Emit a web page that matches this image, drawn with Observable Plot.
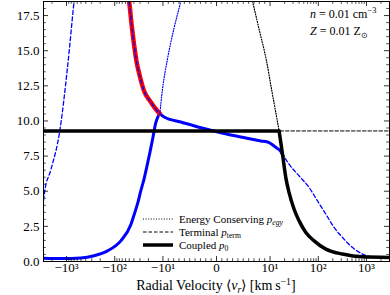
<!DOCTYPE html>
<html><head><meta charset="utf-8">
<script src="https://cdn.jsdelivr.net/npm/d3@7"></script>
<script src="https://cdn.jsdelivr.net/npm/@observablehq/plot@0.6"></script>
<style>
body{margin:0;background:#fff;}
#wrap{position:relative;width:390px;height:295px;font-family:"Liberation Serif",serif;color:#000;}
#wrap svg{display:block;}
.ov{position:absolute;white-space:nowrap;}
.leg{position:absolute;left:143px;height:14px;line-height:14px;font-size:11px;display:flex;align-items:center;}
.leg svg{margin-right:6px;}
sub,sup{font-size:0.7em;line-height:0;}
sub{vertical-align:-0.3em;}
sup{vertical-align:0.55em;}
</style></head><body><div id="wrap"></div>
<script>
// ---- axis ticks ----
const xMajor = [-1000, -100, -10, 0, 10, 100, 1000];
const xMajorLabels = ["\u221210\u00b3", "\u221210\u00b2", "\u221210\u00b9", "0", "10\u00b9", "10\u00b2", "10\u00b3"];
const yMajor = [0, 2.5, 5, 7.5, 10, 12.5, 15, 17.5];
const xDomain = [-3000, 3000];
const yDomain = [0, 18.5];

// ---- black curves (fiducial) ----
const coupledPlateau = [[-3000, 9.29], [15.4, 9.29]];
const coupledDrop = [[15.4, 9.29], [18.1, 7.65], [21.2, 5.97], [24.8, 4.90], [31.5, 3.72], [40.1, 2.89], [55.2, 2.06], [82, 1.47], [143.5, 0.88], [318, 0.53], [828, 0.33], [3000, 0.29]];
const terminalBlack = [[-3000, 9.29], [3000, 9.29]];
const energyBlack = [[6.29, 19.24], [6.72, 18.53], [8.03, 16.40], [9.34, 14.26], [10.9, 12.13], [13.2, 10.57], [15.4, 9.29]];

// ---- blue curves ----
const blueCoupledRise = [[-3000, 0.24], [-1315, 0.21], [-506, 0.25], [-268, 0.41], [-141, 0.76], [-74.8, 1.47], [-46.4, 2.61], [-40.3, 3.25], [-33.7, 4.10], [-28.8, 5.02], [-24.6, 5.88], [-21.6, 6.73], [-18.7, 7.73], [-16.2, 8.79], [-14.1, 9.86], [-12.8, 10.28], [-11.6, 10.52]];
const blueCoupledFall = [[-11.6, 10.52], [-9.78, 10.28], [-6.67, 9.93], [-2.93, 9.52], [-0.5, 9.29], [2.67, 9.0], [5.47, 8.79], [8.27, 8.58], [9.82, 8.46], [12.1, 8.22], [14.3, 8.03], [16.7, 7.83], [18.6, 7.5]];
const blueTermLeft = [[-3000, 4.35], [-2825, 5.02], [-2120, 6.5], [-1380, 9.29], [-955, 13.79], [-697, 18.53], [-643, 19.7]];
const blueTermMid = [[-52.4, 18.88], [-50.4, 18.53], [-44.3, 16.75], [-35.4, 14.26], [-30.2, 13.20], [-24.6, 12.13], [-17.9, 11.35], [-14.1, 10.85], [-11.6, 10.52]];
const blueTermRight = [[-11.6, 10.52], [-9.78, 10.28], [-6.67, 9.93], [-2.93, 9.52], [-0.5, 9.29], [2.67, 9.0], [5.47, 8.79], [8.27, 8.58], [9.82, 8.46], [12.1, 8.22], [14.3, 8.03], [16.7, 7.80], [20.5, 7.35], [24.8, 6.92], [40.1, 6.09], [64.6, 5.26], [96.4, 4.31], [143.5, 3.37], [213, 2.42], [318, 1.71], [514, 0.99], [828, 0.53], [1336, 0.33], [3000, 0.26]];
const blueEnergy = [[-11.6, 10.52], [-10.2, 12.27], [-9.15, 14.41], [-7.92, 16.61], [-6.67, 18.53], [-6.26, 19.24]];
const redCurve = [[-52.4, 18.88], [-50.4, 18.53], [-44.3, 16.75], [-35.4, 14.26], [-30.2, 13.20], [-24.6, 12.13], [-17.9, 11.35], [-14.1, 10.85], [-11.6, 10.52]];

// minor ticks
const xMinor = [];
for (const s of [-1, 1]) {
  for (let k = 1; k <= 9; k++) xMinor.push(s * k);
  for (const dec of [10, 100]) for (let k = 2; k <= 9; k++) xMinor.push(s * k * dec);
  xMinor.push(s * 2000);
}
const yMinor = d3.range(0.5, 18.5, 0.5).filter(v => !yMajor.includes(v));

// matplotlib-like symlog (linthresh 10, linscale 1)
const LIN = 10, LSC = 1 / (1 - 0.1);
const symT = v => Math.abs(v) <= LIN ? v / LIN * LSC : Math.sign(v) * (LSC + Math.log10(Math.abs(v) / LIN));

const W = 390, H = 295, mL = 43, mR = 1, mT = 1, mB = 34;
const fw = W - mL - mR, fh = H - mT - mB;
const X = d => d[0], Y = d => d[1];
const ln = (data, o) => Plot.line(data, {x: X, y: Y, curve: "monotone-x", clip: true, strokeLinejoin: "round", ...o});

const chart = Plot.plot({
  width: W, height: H, marginLeft: mL, marginRight: mR, marginTop: mT, marginBottom: mB,
  style: {fontFamily: "Liberation Serif, serif", fontSize: "13px", background: "white", color: "black", overflow: "visible"},
  x: {type: "linear", transform: symT, domain: xDomain.map(symT), axis: null},
  y: {domain: yDomain, axis: null},
  marks: [
    ln(blueTermLeft, {stroke: "#0000ff", strokeWidth: 1.3, strokeDasharray: "4,2.5"}),
    ln(blueCoupledRise, {stroke: "#0000ff", strokeWidth: 3}),
    ln(blueCoupledFall, {stroke: "#0000ff", strokeWidth: 3}),
    ln(redCurve, {stroke: "#ff0000", strokeWidth: 4.5}),
    ln(blueTermMid, {stroke: "#0000ff", strokeWidth: 1.3, strokeDasharray: "4,2.5"}),
    ln(blueTermRight, {stroke: "#0000ff", strokeWidth: 1.3, strokeDasharray: "4,2.5"}),
    ln(blueEnergy, {stroke: "#0000ff", strokeWidth: 1.2, strokeDasharray: "1,1.6"}),
    ln(energyBlack, {stroke: "black", strokeWidth: 1.2, strokeDasharray: "1,1.6"}),
    ln(terminalBlack, {stroke: "black", strokeWidth: 1, strokeDasharray: "3.5,2", curve: "linear"}),
    ln(coupledPlateau, {stroke: "black", strokeWidth: 3.5, curve: "linear"}),
    ln(coupledDrop, {stroke: "black", strokeWidth: 3.5}),
    // inward ticks
    Plot.tickX(xMajor, {x: d => d, insetTop: fh - 5, stroke: "black", strokeWidth: 0.8}),
    Plot.tickX(xMajor, {x: d => d, insetBottom: fh - 5, stroke: "black", strokeWidth: 0.8}),
    Plot.tickX(xMinor, {x: d => d, insetTop: fh - 2.8, stroke: "black", strokeWidth: 0.7}),
    Plot.tickX(xMinor, {x: d => d, insetBottom: fh - 2.8, stroke: "black", strokeWidth: 0.7}),
    Plot.tickY(yMajor, {y: d => d, insetRight: fw - 5, stroke: "black", strokeWidth: 0.8}),
    Plot.tickY(yMajor, {y: d => d, insetLeft: fw - 5, stroke: "black", strokeWidth: 0.8}),
    Plot.tickY(yMinor, {y: d => d, insetRight: fw - 2.8, stroke: "black", strokeWidth: 0.7}),
    Plot.tickY(yMinor, {y: d => d, insetLeft: fw - 2.8, stroke: "black", strokeWidth: 0.7}),
    Plot.text(xMajor, {x: d => d, frameAnchor: "bottom", dy: 10, text: (d, i) => xMajorLabels[i], fontSize: 13, fill: "black"}),
    Plot.axisY({ticks: yMajor, tickSize: 0, tickPadding: 4, tickFormat: d3.format(".1f"), fontSize: 13, label: null}),
    Plot.frame({stroke: "black", strokeWidth: 1})
  ]
});

const wrap = document.getElementById("wrap");
wrap.appendChild(chart);

function addDiv(html, style, cls) {
  const d = document.createElement("div");
  d.className = cls || "ov";
  d.innerHTML = html;
  Object.assign(d.style, style);
  wrap.appendChild(d);
  return d;
}

// annotation
addDiv('<i>n</i> = 0.01 cm<sup>\u22123</sup>', {left: "310px", top: "6px", fontSize: "12px", lineHeight: "16px"});
addDiv('<i>Z</i> = 0.01 Z<sub>\u2299</sub>', {left: "310px", top: "23px", fontSize: "12px", lineHeight: "16px"});

// legend
const legendRows = [
  {y: 219, dash: "1,1.6", w: 1.1, html: 'Energy Conserving <i>p</i><sub><i>egy</i></sub>'},
  {y: 232, dash: "3.5,2", w: 1, html: 'Terminal <i>p</i><sub>term</sub>'},
  {y: 245, dash: null, w: 3.5, html: 'Coupled <i>p</i><sub>0</sub>'}
];
for (const r of legendRows) {
  const svg = `<svg width="30" height="14"><line x1="0" x2="30" y1="7" y2="7" stroke="black" stroke-width="${r.w}" ${r.dash ? `stroke-dasharray="${r.dash}"` : ""}/></svg>`;
  addDiv(svg + '<span>' + r.html + '</span>', {top: (r.y - 7) + "px"}, "leg");
}

// x label
addDiv('Radial Velocity \u27e8<i>v</i><sub><i>r</i></sub>\u27e9 [km\u2009s<sup>\u22121</sup>]',
  {left: "66px", width: "300px", textAlign: "center", top: "278px", fontSize: "14px", lineHeight: "16px"});
</script>
</body></html>
